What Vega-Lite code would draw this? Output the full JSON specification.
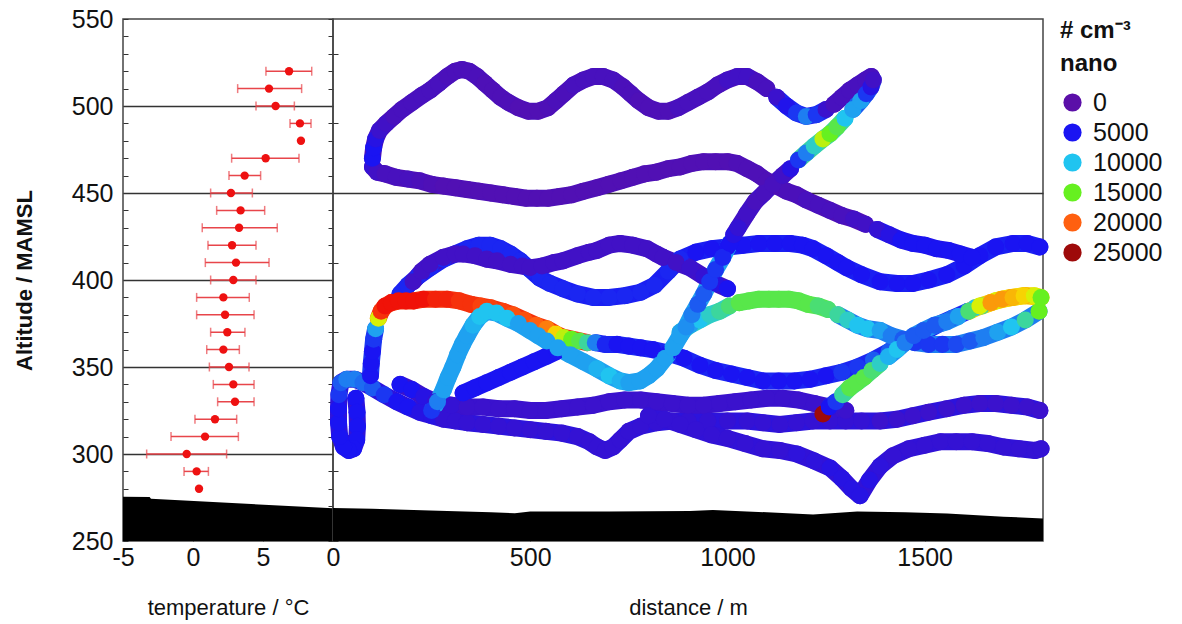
{
  "$schema": "https://vega.github.io/schema/vega-lite/v6.json",
  "background": "white",
  "padding": {"left": 12, "top": 6, "right": 5, "bottom": 5},
  "bounds": "flush",
  "spacing": 0,
  "config": {
    "font": "Liberation Sans",
    "view": {"stroke": "#444", "strokeWidth": 1.5},
    "axis": {"labelFont": "Liberation Sans", "labelFontSize": 25, "labelColor": "#111", "titleFont": "Liberation Sans", "titleColor": "#111", "domain": false, "tickColor": "#333", "tickWidth": 1, "tickSize": -5, "labelOverlap": false, "labelFlush": false, "labelBound": false},
    "legend": {"labelFont": "Liberation Sans", "titleFont": "Liberation Sans", "labelColor": "#111", "titleColor": "#111"}
  },
  "datasets": {
    "temp": [
      {"alt": 520, "t": 6.86, "lo": 5.21, "hi": 8.48},
      {"alt": 510, "t": 5.43, "lo": 3.19, "hi": 7.76},
      {"alt": 500, "t": 5.9, "lo": 4.5, "hi": 7.24},
      {"alt": 490, "t": 7.64, "lo": 6.93, "hi": 8.43},
      {"alt": 480, "t": 7.71},
      {"alt": 470, "t": 5.19, "lo": 2.76, "hi": 7.57},
      {"alt": 460, "t": 3.69, "lo": 2.57, "hi": 4.83},
      {"alt": 450, "t": 2.71, "lo": 1.26, "hi": 4.24},
      {"alt": 440, "t": 3.4, "lo": 1.69, "hi": 5.12},
      {"alt": 430, "t": 3.29, "lo": 0.66, "hi": 6.02},
      {"alt": 420, "t": 2.79, "lo": 1.07, "hi": 4.5},
      {"alt": 410, "t": 3.07, "lo": 0.88, "hi": 5.43},
      {"alt": 400, "t": 2.88, "lo": 1.26, "hi": 4.5},
      {"alt": 390, "t": 2.17, "lo": 0.26, "hi": 4.02},
      {"alt": 380, "t": 2.29, "lo": 0.26, "hi": 4.36},
      {"alt": 370, "t": 2.45, "lo": 1.26, "hi": 3.71},
      {"alt": 360, "t": 2.17, "lo": 0.98, "hi": 3.31},
      {"alt": 350, "t": 2.57, "lo": 1.17, "hi": 4.0},
      {"alt": 340, "t": 2.88, "lo": 1.45, "hi": 4.36},
      {"alt": 330, "t": 3.0, "lo": 1.76, "hi": 4.36},
      {"alt": 320, "t": 1.57, "lo": 0.14, "hi": 3.12},
      {"alt": 310, "t": 0.86, "lo": -1.57, "hi": 3.24},
      {"alt": 300, "t": -0.45, "lo": -3.31, "hi": 2.4},
      {"alt": 290, "t": 0.26, "lo": -0.64, "hi": 1.1},
      {"alt": 280, "t": 0.43}
    ],
    "groundT": [
      {"t": -5, "g": 275.5}, {"t": -3.1, "g": 275.3}, {"t": -3, "g": 274.3}, {"t": 10, "g": 268.8}
    ],
    "groundD": [
      {"d": 0, "g": 269}, {"d": 100, "g": 268.5}, {"d": 246, "g": 267.5}, {"d": 400, "g": 266.5}, {"d": 461, "g": 266}, {"d": 500, "g": 267}, {"d": 700, "g": 267}, {"d": 905, "g": 267.2}, {"d": 963, "g": 267.8}, {"d": 1100, "g": 266.5}, {"d": 1217, "g": 265.3}, {"d": 1329, "g": 267}, {"d": 1450, "g": 266.5}, {"d": 1557, "g": 265.8}, {"d": 1700, "g": 264}, {"d": 1800, "g": 263}
    ],
    "tk": [
      {"k":"I","c":3500},{"k":"K","c":3200},{"k":"J","c":2500},{"k":"M","c":5000},{"k":"G","c":5300},{"k":"H","c":2100},{"k":"B","c":1000},{"k":"B2","c":4500},
      {"k":"A1","c":1300},{"k":"A2","c":5500},{"k":"A3","c":1500},{"k":"D1","c":6000},{"k":"D2","c":21500},{"k":"D3","c":5500},{"k":"D4","c":18000},
      {"k":"E1","c":11000},{"k":"E2","c":13800},{"k":"E3","c":8000},{"k":"F1","c":6000},{"k":"F2","c":13000},{"k":"F3","c":8500},{"k":"F4","c":18000},
      {"k":"C1","c":9000},{"k":"C2","c":2000},{"k":"C3","c":12000},{"k":"C4","c":7000}
    ],
    "track": [
      {"k":"I","d":58,"a":332,"v":5000},{"k":"I","d":61,"a":324,"v":5000},{"k":"I","d":62,"a":316,"v":5000},{"k":"I","d":60,"a":308,"v":5000},{"k":"I","d":52,"a":303,"v":5000},{"k":"I","d":40,"a":302,"v":5000},{"k":"I","d":27,"a":304,"v":5000},{"k":"I","d":17,"a":310,"v":5000},{"k":"I","d":14,"a":318,"v":5000},{"k":"I","d":14,"a":326,"v":5000},{"k":"I","d":15,"a":334,"v":6000},{"k":"I","d":20,"a":341,"v":7000},{"k":"I","d":35,"a":343,"v":8000},{"k":"I","d":55,"a":343,"v":8000},{"k":"I","d":76,"a":341,"v":7500},{"k":"I","d":100,"a":338,"v":7000},{"k":"I","d":130,"a":334,"v":6000},{"k":"I","d":162,"a":330,"v":5000},{"k":"I","d":190,"a":327,"v":5000},{"k":"I","d":220,"a":324,"v":4000},{"k":"I","d":250,"a":322,"v":4000},{"k":"I","d":280,"a":320,"v":3000},{"k":"I","d":310,"a":319,"v":3000},{"k":"I","d":340,"a":318,"v":3000},{"k":"I","d":380,"a":317,"v":3000},{"k":"I","d":420,"a":316,"v":3000},{"k":"I","d":460,"a":315,"v":3000},{"k":"I","d":500,"a":314,"v":3000},{"k":"I","d":540,"a":313,"v":3000},{"k":"I","d":580,"a":312,"v":3000},{"k":"I","d":620,"a":310,"v":3000},{"k":"I","d":650,"a":307,"v":3000},{"k":"I","d":670,"a":304,"v":3000},{"k":"I","d":690,"a":302,"v":3000},{"k":"I","d":710,"a":304,"v":3000},{"k":"I","d":728,"a":308,"v":3000},{"k":"I","d":750,"a":313,"v":3000},{"k":"I","d":780,"a":316,"v":3000},{"k":"I","d":820,"a":318,"v":3000},{"k":"I","d":860,"a":319,"v":3000},{"k":"I","d":900,"a":319,"v":3000},{"k":"I","d":950,"a":319,"v":3000},{"k":"I","d":1000,"a":319,"v":3000},{"k":"I","d":1050,"a":319,"v":3000},{"k":"I","d":1090,"a":318,"v":3000},{"k":"I","d":1133,"a":317,"v":3000},{"k":"I","d":1175,"a":318,"v":3000},{"k":"I","d":1217,"a":319,"v":3000},{"k":"I","d":1260,"a":319,"v":3000},{"k":"I","d":1300,"a":319,"v":3000},{"k":"I","d":1340,"a":319,"v":3000},{"k":"I","d":1387,"a":319,"v":2500},{"k":"I","d":1430,"a":320,"v":2500},{"k":"I","d":1470,"a":322,"v":2500},{"k":"I","d":1510,"a":324,"v":2500},{"k":"I","d":1556,"a":326,"v":2500},{"k":"I","d":1600,"a":328,"v":2500},{"k":"I","d":1640,"a":329,"v":2500},{"k":"I","d":1680,"a":329,"v":2500},{"k":"I","d":1720,"a":328,"v":2500},{"k":"I","d":1760,"a":327,"v":2500},{"k":"I","d":1792,"a":325,"v":2500},
      {"k":"K","d":800,"a":322,"v":3000},{"k":"K","d":840,"a":320,"v":3000},{"k":"K","d":880,"a":317,"v":3000},{"k":"K","d":920,"a":314,"v":3000},{"k":"K","d":960,"a":311,"v":3000},{"k":"K","d":1000,"a":309,"v":3000},{"k":"K","d":1045,"a":306,"v":3000},{"k":"K","d":1090,"a":303,"v":3000},{"k":"K","d":1133,"a":302,"v":3000},{"k":"K","d":1176,"a":300,"v":3500},{"k":"K","d":1220,"a":296,"v":3500},{"k":"K","d":1260,"a":292,"v":4000},{"k":"K","d":1290,"a":286,"v":4000},{"k":"K","d":1315,"a":280,"v":4000},{"k":"K","d":1336,"a":276,"v":4000},{"k":"K","d":1360,"a":285,"v":4000},{"k":"K","d":1387,"a":293,"v":3500},{"k":"K","d":1420,"a":299,"v":3000},{"k":"K","d":1460,"a":303,"v":3000},{"k":"K","d":1500,"a":305,"v":3000},{"k":"K","d":1540,"a":307,"v":3000},{"k":"K","d":1580,"a":307,"v":3000},{"k":"K","d":1620,"a":307,"v":3000},{"k":"K","d":1660,"a":306,"v":3000},{"k":"K","d":1700,"a":304,"v":3000},{"k":"K","d":1740,"a":303,"v":3000},{"k":"K","d":1780,"a":302,"v":3000},{"k":"K","d":1795,"a":303,"v":3000},
      {"k":"J","d":170,"a":340,"v":5000},{"k":"J","d":200,"a":337,"v":5000},{"k":"J","d":230,"a":333,"v":4000},{"k":"J","d":260,"a":330,"v":3000},{"k":"J","d":300,"a":328,"v":3000},{"k":"J","d":340,"a":327,"v":2500},{"k":"J","d":380,"a":327,"v":2500},{"k":"J","d":420,"a":326,"v":2500},{"k":"J","d":460,"a":326,"v":2500},{"k":"J","d":500,"a":325,"v":2500},{"k":"J","d":540,"a":325,"v":2500},{"k":"J","d":580,"a":326,"v":2500},{"k":"J","d":620,"a":327,"v":2500},{"k":"J","d":660,"a":328,"v":2500},{"k":"J","d":700,"a":330,"v":2500},{"k":"J","d":740,"a":331,"v":2500},{"k":"J","d":780,"a":331,"v":2500},{"k":"J","d":820,"a":330,"v":2500},{"k":"J","d":860,"a":329,"v":2500},{"k":"J","d":900,"a":328,"v":2500},{"k":"J","d":940,"a":328,"v":2500},{"k":"J","d":980,"a":329,"v":2500},{"k":"J","d":1020,"a":330,"v":2500},{"k":"J","d":1060,"a":331,"v":2500},{"k":"J","d":1100,"a":332,"v":2500},{"k":"J","d":1140,"a":332,"v":2500},{"k":"J","d":1180,"a":331,"v":2500},{"k":"J","d":1220,"a":329,"v":2500},{"k":"J","d":1260,"a":327,"v":2500},{"k":"J","d":1300,"a":325,"v":2500},
      {"k":"M","d":330,"a":335,"v":5000},{"k":"M","d":360,"a":338,"v":5000},{"k":"M","d":390,"a":341,"v":5000},{"k":"M","d":420,"a":344,"v":5000},{"k":"M","d":450,"a":347,"v":5000},{"k":"M","d":480,"a":350,"v":5000},{"k":"M","d":510,"a":353,"v":5000},{"k":"M","d":540,"a":356,"v":5000},{"k":"M","d":568,"a":359,"v":5000},
      {"k":"G","d":170,"a":392,"v":5500},{"k":"G","d":190,"a":397,"v":5500},{"k":"G","d":215,"a":402,"v":5500},{"k":"G","d":246,"a":407,"v":5500},{"k":"G","d":280,"a":412,"v":5500},{"k":"G","d":310,"a":415,"v":5500},{"k":"G","d":340,"a":418,"v":5500},{"k":"G","d":370,"a":420,"v":5500},{"k":"G","d":398,"a":420,"v":5500},{"k":"G","d":425,"a":418,"v":5500},{"k":"G","d":450,"a":415,"v":5500},{"k":"G","d":475,"a":411,"v":5500},{"k":"G","d":500,"a":406,"v":5500},{"k":"G","d":525,"a":401,"v":5500},{"k":"G","d":550,"a":398,"v":5500},{"k":"G","d":583,"a":395,"v":5500},{"k":"G","d":620,"a":392,"v":5500},{"k":"G","d":660,"a":390,"v":5500},{"k":"G","d":700,"a":390,"v":5500},{"k":"G","d":740,"a":391,"v":5500},{"k":"G","d":780,"a":393,"v":5500},{"k":"G","d":815,"a":397,"v":5500},{"k":"G","d":850,"a":405,"v":5500},{"k":"G","d":880,"a":412,"v":5500},{"k":"G","d":920,"a":416,"v":5000},{"k":"G","d":960,"a":418,"v":5000},{"k":"G","d":1000,"a":419,"v":5000},{"k":"G","d":1040,"a":420,"v":5000},{"k":"G","d":1080,"a":421,"v":5000},{"k":"G","d":1120,"a":421,"v":5000},{"k":"G","d":1159,"a":421,"v":5000},{"k":"G","d":1190,"a":420,"v":5000},{"k":"G","d":1217,"a":418,"v":5000},{"k":"G","d":1250,"a":414,"v":5000},{"k":"G","d":1280,"a":410,"v":5000},{"k":"G","d":1303,"a":407,"v":5000},{"k":"G","d":1340,"a":403,"v":5000},{"k":"G","d":1387,"a":399,"v":5000},{"k":"G","d":1430,"a":398,"v":5000},{"k":"G","d":1470,"a":398,"v":5000},{"k":"G","d":1510,"a":400,"v":5000},{"k":"G","d":1556,"a":403,"v":5000},{"k":"G","d":1600,"a":408,"v":5000},{"k":"G","d":1640,"a":414,"v":5000},{"k":"G","d":1680,"a":419,"v":5000},{"k":"G","d":1724,"a":421,"v":5000},{"k":"G","d":1760,"a":421,"v":5000},{"k":"G","d":1792,"a":419,"v":5000},
      {"k":"H","d":203,"a":399,"v":2000},{"k":"H","d":225,"a":405,"v":2000},{"k":"H","d":246,"a":409,"v":2000},{"k":"H","d":280,"a":413,"v":2000},{"k":"H","d":310,"a":415,"v":2000},{"k":"H","d":330,"a":415,"v":2000},{"k":"H","d":360,"a":414,"v":2000},{"k":"H","d":390,"a":412,"v":2000},{"k":"H","d":416,"a":411,"v":2000},{"k":"H","d":450,"a":409,"v":2000},{"k":"H","d":480,"a":408,"v":2000},{"k":"H","d":499,"a":407,"v":2000},{"k":"H","d":530,"a":408,"v":2000},{"k":"H","d":560,"a":410,"v":2000},{"k":"H","d":583,"a":411,"v":2000},{"k":"H","d":620,"a":414,"v":2000},{"k":"H","d":650,"a":416,"v":2000},{"k":"H","d":669,"a":417,"v":2000},{"k":"H","d":700,"a":420,"v":2000},{"k":"H","d":728,"a":421,"v":2000},{"k":"H","d":760,"a":420,"v":2000},{"k":"H","d":796,"a":418,"v":2000},{"k":"H","d":820,"a":415,"v":2000},{"k":"H","d":837,"a":413,"v":2000},{"k":"H","d":870,"a":410,"v":2000},{"k":"H","d":905,"a":407,"v":2500},{"k":"H","d":940,"a":402,"v":3000},{"k":"H","d":970,"a":398,"v":4000},{"k":"H","d":1000,"a":395,"v":5000},
      {"k":"B","d":100,"a":465,"v":3000},{"k":"B","d":112,"a":462,"v":2000},{"k":"B","d":132,"a":461,"v":1500},{"k":"B","d":160,"a":459,"v":1500},{"k":"B","d":190,"a":458,"v":1500},{"k":"B","d":220,"a":457,"v":1200},{"k":"B","d":250,"a":455,"v":1000},{"k":"B","d":280,"a":454,"v":800},{"k":"B","d":310,"a":453,"v":800},{"k":"B","d":340,"a":452,"v":800},{"k":"B","d":370,"a":451,"v":800},{"k":"B","d":400,"a":450,"v":800},{"k":"B","d":430,"a":449,"v":800},{"k":"B","d":460,"a":448,"v":800},{"k":"B","d":490,"a":447,"v":800},{"k":"B","d":517,"a":447,"v":800},{"k":"B","d":545,"a":447,"v":800},{"k":"B","d":575,"a":448,"v":800},{"k":"B","d":605,"a":449,"v":800},{"k":"B","d":635,"a":451,"v":800},{"k":"B","d":669,"a":453,"v":800},{"k":"B","d":700,"a":455,"v":800},{"k":"B","d":730,"a":457,"v":800},{"k":"B","d":760,"a":459,"v":800},{"k":"B","d":790,"a":461,"v":800},{"k":"B","d":820,"a":462,"v":800},{"k":"B","d":850,"a":464,"v":800},{"k":"B","d":880,"a":465,"v":800},{"k":"B","d":910,"a":467,"v":800},{"k":"B","d":940,"a":468,"v":800},{"k":"B","d":970,"a":468,"v":800},{"k":"B","d":1000,"a":468,"v":800},{"k":"B","d":1024,"a":467,"v":1000},{"k":"B","d":1050,"a":464,"v":1000},{"k":"B","d":1075,"a":461,"v":1000},{"k":"B","d":1100,"a":457,"v":1000},{"k":"B","d":1125,"a":454,"v":1000},{"k":"B","d":1150,"a":451,"v":1200},{"k":"B","d":1175,"a":449,"v":1200},{"k":"B","d":1200,"a":446,"v":1500},{"k":"B","d":1230,"a":443,"v":1500},{"k":"B","d":1260,"a":440,"v":1500},{"k":"B","d":1290,"a":437,"v":1500},{"k":"B","d":1320,"a":435,"v":2000},{"k":"B","d":1350,"a":432,"v":2000},{"k":"B2","d":1380,"a":429,"v":3000},{"k":"B2","d":1410,"a":426,"v":4000},{"k":"B2","d":1440,"a":423,"v":5000},{"k":"B2","d":1470,"a":421,"v":5000},{"k":"B2","d":1500,"a":420,"v":5000},{"k":"B2","d":1530,"a":418,"v":5000},{"k":"B2","d":1560,"a":417,"v":5000},{"k":"B2","d":1590,"a":415,"v":5000},{"k":"B2","d":1620,"a":413,"v":5000},
      {"k":"A1","d":100,"a":470,"v":5000},{"k":"A1","d":103,"a":476,"v":5000},{"k":"A1","d":108,"a":481,"v":4000},{"k":"A1","d":118,"a":486,"v":2500},{"k":"A1","d":135,"a":490,"v":2000},{"k":"A1","d":155,"a":494,"v":1500},{"k":"A1","d":175,"a":498,"v":1500},{"k":"A1","d":200,"a":502,"v":1500},{"k":"A1","d":225,"a":506,"v":1500},{"k":"A1","d":246,"a":509,"v":1500},{"k":"A1","d":268,"a":513,"v":1500},{"k":"A1","d":290,"a":517,"v":1200},{"k":"A1","d":310,"a":520,"v":1200},{"k":"A1","d":327,"a":521,"v":1200},{"k":"A1","d":345,"a":520,"v":1200},{"k":"A1","d":365,"a":517,"v":1200},{"k":"A1","d":385,"a":513,"v":1000},{"k":"A1","d":405,"a":509,"v":1000},{"k":"A1","d":425,"a":505,"v":1000},{"k":"A1","d":445,"a":502,"v":1000},{"k":"A1","d":470,"a":499,"v":800},{"k":"A1","d":495,"a":497,"v":800},{"k":"A1","d":520,"a":497,"v":800},{"k":"A1","d":545,"a":499,"v":1000},{"k":"A1","d":565,"a":503,"v":1200},{"k":"A1","d":585,"a":507,"v":1200},{"k":"A1","d":610,"a":512,"v":1500},{"k":"A1","d":635,"a":515,"v":1500},{"k":"A1","d":660,"a":517,"v":1500},{"k":"A1","d":685,"a":517,"v":1500},{"k":"A1","d":710,"a":515,"v":1500},{"k":"A1","d":735,"a":511,"v":1200},{"k":"A1","d":755,"a":507,"v":1200},{"k":"A1","d":775,"a":503,"v":1000},{"k":"A1","d":800,"a":499,"v":1000},{"k":"A1","d":825,"a":497,"v":1000},{"k":"A1","d":850,"a":497,"v":1000},{"k":"A1","d":875,"a":499,"v":1500},{"k":"A1","d":900,"a":502,"v":1500},{"k":"A1","d":925,"a":505,"v":1500},{"k":"A1","d":950,"a":508,"v":1500},{"k":"A1","d":975,"a":512,"v":1500},{"k":"A1","d":1000,"a":515,"v":2000},{"k":"A1","d":1025,"a":517,"v":2000},{"k":"A1","d":1050,"a":517,"v":2000},{"k":"A1","d":1075,"a":514,"v":1500},{"k":"A1","d":1100,"a":510,"v":1500},{"k":"A2","d":1125,"a":505,"v":2500},{"k":"A2","d":1150,"a":500,"v":4500},{"k":"A2","d":1175,"a":496,"v":6000},{"k":"A2","d":1200,"a":494,"v":8000},{"k":"A2","d":1225,"a":495,"v":6000},{"k":"A2","d":1250,"a":498,"v":2500},{"k":"A3","d":1270,"a":501,"v":1500},{"k":"A3","d":1290,"a":505,"v":1500},{"k":"A3","d":1310,"a":509,"v":1500},{"k":"A3","d":1330,"a":512,"v":1500},{"k":"A3","d":1350,"a":515,"v":1500},{"k":"A3","d":1365,"a":517,"v":1500},
      {"k":"D1","d":95,"a":345,"v":5000},{"k":"D1","d":97,"a":352,"v":5000},{"k":"D1","d":100,"a":359,"v":5000},{"k":"D1","d":103,"a":366,"v":6000},{"k":"D1","d":108,"a":372,"v":9000},{"k":"D2","d":115,"a":378,"v":17000},{"k":"D2","d":122,"a":382,"v":21500},{"k":"D2","d":132,"a":385,"v":22500},{"k":"D2","d":148,"a":387,"v":22500},{"k":"D2","d":166,"a":388,"v":22500},{"k":"D2","d":185,"a":388,"v":22500},{"k":"D2","d":205,"a":388,"v":22500},{"k":"D2","d":230,"a":389,"v":22500},{"k":"D2","d":260,"a":389,"v":22000},{"k":"D2","d":289,"a":389,"v":22000},{"k":"D2","d":320,"a":388,"v":21500},{"k":"D2","d":350,"a":386,"v":21500},{"k":"D2","d":375,"a":385,"v":21000},{"k":"D2","d":400,"a":384,"v":21000},{"k":"D2","d":430,"a":382,"v":21000},{"k":"D2","d":456,"a":380,"v":20500},{"k":"D2","d":485,"a":377,"v":20500},{"k":"D2","d":515,"a":374,"v":20000},{"k":"D2","d":542,"a":372,"v":19500},{"k":"D2","d":565,"a":369,"v":18000},{"k":"D2","d":585,"a":367,"v":16500},{"k":"D2","d":605,"a":366,"v":15000},{"k":"D2","d":625,"a":365,"v":14000},{"k":"D2","d":645,"a":364,"v":12000},{"k":"D3","d":665,"a":364,"v":8000},{"k":"D3","d":690,"a":363,"v":5500},{"k":"D3","d":720,"a":363,"v":5000},{"k":"D3","d":750,"a":362,"v":5000},{"k":"D3","d":780,"a":361,"v":5000},{"k":"D3","d":810,"a":360,"v":5000},{"k":"D3","d":850,"a":358,"v":5000},{"k":"D3","d":890,"a":355,"v":5000},{"k":"D3","d":930,"a":351,"v":5000},{"k":"D3","d":970,"a":348,"v":5000},{"k":"D3","d":1010,"a":346,"v":5000},{"k":"D3","d":1050,"a":344,"v":5000},{"k":"D3","d":1090,"a":342,"v":5000},{"k":"D3","d":1130,"a":342,"v":5000},{"k":"D3","d":1170,"a":342,"v":5000},{"k":"D3","d":1210,"a":343,"v":5000},{"k":"D3","d":1250,"a":345,"v":5000},{"k":"D3","d":1290,"a":347,"v":6000},{"k":"D3","d":1330,"a":350,"v":6000},{"k":"D3","d":1370,"a":354,"v":7000},{"k":"D3","d":1410,"a":359,"v":7000},{"k":"D3","d":1450,"a":364,"v":7000},{"k":"D3","d":1490,"a":369,"v":7000},{"k":"D3","d":1530,"a":374,"v":7000},{"k":"D3","d":1570,"a":378,"v":7500},{"k":"D3","d":1610,"a":382,"v":8000},{"k":"D4","d":1628,"a":384,"v":10000},{"k":"D4","d":1645,"a":385,"v":12000},{"k":"D4","d":1680,"a":388,"v":17000},{"k":"D4","d":1720,"a":390,"v":19000},{"k":"D4","d":1755,"a":391,"v":19000},{"k":"D4","d":1790,"a":390,"v":18000},
      {"k":"E1","d":880,"a":370,"v":9000},{"k":"E1","d":905,"a":374,"v":9000},{"k":"E1","d":930,"a":377,"v":10000},{"k":"E1","d":955,"a":380,"v":11000},{"k":"E1","d":980,"a":382,"v":12000},{"k":"E1","d":1005,"a":385,"v":13000},{"k":"E2","d":1030,"a":387,"v":14000},{"k":"E2","d":1055,"a":388,"v":14000},{"k":"E2","d":1080,"a":389,"v":14000},{"k":"E2","d":1105,"a":389,"v":14000},{"k":"E2","d":1130,"a":389,"v":14000},{"k":"E2","d":1155,"a":389,"v":14000},{"k":"E2","d":1180,"a":388,"v":14000},{"k":"E2","d":1205,"a":386,"v":14000},{"k":"E2","d":1230,"a":385,"v":13000},{"k":"E2","d":1255,"a":383,"v":13000},{"k":"E3","d":1280,"a":380,"v":12000},{"k":"E3","d":1305,"a":377,"v":11000},{"k":"E3","d":1330,"a":374,"v":10000},{"k":"E3","d":1355,"a":372,"v":10000},{"k":"E3","d":1387,"a":371,"v":9000},{"k":"E3","d":1415,"a":368,"v":8000},{"k":"E3","d":1445,"a":366,"v":7000},{"k":"E3","d":1475,"a":364,"v":6000},{"k":"E3","d":1510,"a":363,"v":6000},{"k":"E3","d":1545,"a":363,"v":6000},{"k":"E3","d":1580,"a":363,"v":6500},{"k":"E3","d":1615,"a":365,"v":7000},{"k":"E3","d":1650,"a":367,"v":8000},{"k":"E3","d":1685,"a":370,"v":9000},{"k":"E3","d":1720,"a":373,"v":10000},{"k":"E3","d":1755,"a":377,"v":12000},{"k":"E3","d":1790,"a":382,"v":15000},
      {"k":"F1","d":1242,"a":323,"v":25000},{"k":"F1","d":1258,"a":327,"v":5000},{"k":"F1","d":1275,"a":330,"v":6000},{"k":"F2","d":1292,"a":334,"v":12000},{"k":"F2","d":1310,"a":338,"v":14000},{"k":"F2","d":1328,"a":341,"v":14000},{"k":"F2","d":1346,"a":344,"v":14000},{"k":"F2","d":1366,"a":348,"v":13000},{"k":"F2","d":1387,"a":352,"v":11000},{"k":"F3","d":1408,"a":356,"v":9500},{"k":"F3","d":1430,"a":360,"v":10000},{"k":"F3","d":1450,"a":364,"v":8000},{"k":"F3","d":1472,"a":368,"v":7000},{"k":"F3","d":1497,"a":371,"v":7000},{"k":"F3","d":1525,"a":374,"v":7000},{"k":"F3","d":1556,"a":376,"v":8000},{"k":"F3","d":1585,"a":379,"v":9000},{"k":"F4","d":1612,"a":382,"v":13000},{"k":"F4","d":1640,"a":385,"v":17000},{"k":"F4","d":1668,"a":387,"v":19000},{"k":"F4","d":1696,"a":389,"v":19000},{"k":"F4","d":1724,"a":390,"v":18500},{"k":"F4","d":1752,"a":391,"v":18000},{"k":"F4","d":1778,"a":391,"v":17000},{"k":"F4","d":1795,"a":390,"v":15000},
      {"k":"C1","d":250,"a":325,"v":6000},{"k":"C1","d":265,"a":330,"v":8000},{"k":"C1","d":280,"a":337,"v":9000},{"k":"C1","d":292,"a":344,"v":9000},{"k":"C1","d":304,"a":350,"v":9000},{"k":"C1","d":316,"a":357,"v":9000},{"k":"C1","d":328,"a":363,"v":9000},{"k":"C1","d":340,"a":368,"v":9000},{"k":"C1","d":355,"a":374,"v":9500},{"k":"C1","d":372,"a":379,"v":10000},{"k":"C1","d":390,"a":382,"v":10000},{"k":"C1","d":415,"a":381,"v":10000},{"k":"C1","d":441,"a":378,"v":10000},{"k":"C1","d":470,"a":375,"v":9000},{"k":"C1","d":499,"a":371,"v":9000},{"k":"C1","d":520,"a":368,"v":9000},{"k":"C1","d":542,"a":365,"v":9000},{"k":"C1","d":570,"a":361,"v":9000},{"k":"C1","d":601,"a":357,"v":9000},{"k":"C1","d":635,"a":353,"v":9000},{"k":"C1","d":669,"a":349,"v":9500},{"k":"C1","d":700,"a":345,"v":10000},{"k":"C1","d":728,"a":342,"v":9500},{"k":"C1","d":750,"a":341,"v":9000},{"k":"C1","d":778,"a":342,"v":9000},{"k":"C1","d":800,"a":345,"v":9000},{"k":"C1","d":821,"a":349,"v":9000},{"k":"C1","d":842,"a":355,"v":9000},{"k":"C1","d":862,"a":361,"v":9000},{"k":"C1","d":880,"a":368,"v":9000},{"k":"C1","d":895,"a":373,"v":8500},{"k":"C1","d":910,"a":380,"v":8000},{"k":"C1","d":925,"a":386,"v":7000},{"k":"C1","d":940,"a":392,"v":7000},{"k":"C1","d":955,"a":399,"v":6000},{"k":"C1","d":970,"a":406,"v":6000},{"k":"C1","d":988,"a":413,"v":5500},{"k":"C1","d":1006,"a":421,"v":5000},{"k":"C2","d":1016,"a":426,"v":4000},{"k":"C2","d":1027,"a":430,"v":3000},{"k":"C2","d":1049,"a":438,"v":2000},{"k":"C2","d":1070,"a":445,"v":1500},{"k":"C2","d":1093,"a":450,"v":1500},{"k":"C2","d":1115,"a":455,"v":1500},{"k":"C2","d":1140,"a":460,"v":2000},{"k":"C2","d":1160,"a":464,"v":4000},{"k":"C3","d":1180,"a":469,"v":6000},{"k":"C3","d":1200,"a":473,"v":8000},{"k":"C3","d":1220,"a":477,"v":11000},{"k":"C3","d":1242,"a":481,"v":16500},{"k":"C3","d":1260,"a":484,"v":15000},{"k":"C3","d":1278,"a":488,"v":14000},{"k":"C3","d":1298,"a":493,"v":10000},{"k":"C4","d":1318,"a":498,"v":9000},{"k":"C4","d":1338,"a":503,"v":9000},{"k":"C4","d":1352,"a":507,"v":6000},{"k":"C4","d":1364,"a":511,"v":4000},{"k":"C4","d":1370,"a":515,"v":2000}
    ]
  },
  "hconcat": [
    {
      "width": 210,
      "height": 522,
      "resolve": {"axis": {"y": "independent"}},
      "layer": [
        {
          "data": {"name": "groundT"},
          "mark": {"type": "area", "color": "black", "clip": true},
          "encoding": {
            "x": {"field": "t", "type": "quantitative", "title": "temperature / °C", "scale": {"domain": [-5, 10], "nice": false, "zero": false},
              "axis": {"values": [-5, 0, 5], "labelExpr": "datum.value === -5 ? '-5' : '' + datum.value", "labelOverlap": false, "labelPadding": 9, "titlePadding": 27, "titleFontSize": 22, "titleFontWeight": "normal", "grid": false}},
            "y": {"field": "g", "type": "quantitative", "title": "Altitude / MAMSL", "scale": {"domain": [250, 550], "nice": false, "zero": false},
              "axis": {"orient": "left", "values": [250,260,270,280,290,300,310,320,330,340,350,360,370,380,390,400,410,420,430,440,450,460,470,480,490,500,510,520,530,540,550], "labelExpr": "datum.value % 50 === 0 ? '' + datum.value : ''", "labelOverlap": false, "labelPadding": 15, "titlePadding": 35, "titleFontSize": 22, "titleFontWeight": "bold", "grid": true, "gridColor": "#333", "gridWidth": 1.5, "gridOpacity": {"condition": {"test": "datum.value % 50 === 0 && datum.value > 250 && datum.value < 550", "value": 1}, "value": 0}}},
            "y2": {"datum": 250}
          }
        },
        {
          "data": {"name": "temp"},
          "transform": [{"filter": "isValid(datum.lo)"}],
          "mark": {"type": "errorbar", "ticks": {"size": 9}, "color": "#e8454a", "thickness": 1.5},
          "encoding": {
            "x": {"field": "lo", "type": "quantitative", "title": "temperature / °C"},
            "x2": {"field": "hi"},
            "y": {"field": "alt", "type": "quantitative", "title": "Altitude / MAMSL",
              "axis": {"orient": "right", "values": [250,260,270,280,290,300,310,320,330,340,350,360,370,380,390,400,410,420,430,440,450,460,470,480,490,500,510,520,530,540,550], "labels": false, "title": null, "grid": false}}
          }
        },
        {
          "data": {"name": "temp"},
          "mark": {"type": "circle", "size": 70, "color": "#ee1111", "opacity": 1},
          "encoding": {
            "x": {"field": "t", "type": "quantitative", "title": "temperature / °C"},
            "y": {"field": "alt", "type": "quantitative", "axis": null}
          }
        }
      ]
    },
    {
      "width": 710,
      "height": 522,
      "layer": [
        {
          "data": {"name": "groundD"},
          "mark": {"type": "area", "color": "black"},
          "encoding": {
            "x": {"field": "d", "type": "quantitative", "title": "distance / m", "scale": {"domain": [0, 1800], "nice": false, "zero": false},
              "axis": {"values": [0, 500, 1000, 1500], "labelExpr": "'' + datum.value", "labelOverlap": false, "labelPadding": 9, "titlePadding": 27, "titleFontSize": 22, "titleFontWeight": "normal", "grid": false}},
            "y": {"field": "g", "type": "quantitative", "title": null, "scale": {"domain": [250, 550], "nice": false, "zero": false},
              "axis": {"orient": "left", "values": [250,260,270,280,290,300,310,320,330,340,350,360,370,380,390,400,410,420,430,440,450,460,470,480,490,500,510,520,530,540,550], "labels": false, "title": null, "grid": true, "gridColor": "#333", "gridWidth": 1.5, "gridOpacity": {"condition": {"test": "datum.value % 50 === 0 && datum.value > 250 && datum.value < 550", "value": 1}, "value": 0}}},
            "y2": {"datum": 250}
          }
        },
        {
          "data": {"name": "track"},
          "transform": [{"lookup": "k", "from": {"data": {"name": "tk"}, "key": "k", "fields": ["c"]}}],
          "mark": {"type": "line", "strokeWidth": 17, "strokeCap": "round", "strokeJoin": "round", "opacity": 1},
          "encoding": {
            "x": {"field": "d", "type": "quantitative", "title": "distance / m"},
            "y": {"field": "a", "type": "quantitative", "title": null},
            "detail": {"field": "k"},
            "order": {"value": null},
            "stroke": {"field": "c", "type": "quantitative",
              "scale": {"domain": [-1, 5000, 10000, 15000, 17500, 20000, 22500, 25001], "range": ["#5b0fa8", "#1a14f2", "#20c4f0", "#66f020", "#f5f000", "#ff6010", "#f01208", "#9e0a0a"], "interpolate": "rgb"},
              "legend": null}
          }
        },
        {
          "data": {"name": "track"},
          "mark": {"type": "circle", "size": 290, "opacity": 1},
          "encoding": {
            "x": {"field": "d", "type": "quantitative", "title": "distance / m"},
            "y": {"field": "a", "type": "quantitative", "title": null},
            "color": {"field": "v", "type": "quantitative",
              "scale": {"domain": [0, 5000, 10000, 15000, 17500, 20000, 22500, 25000], "range": ["#5b0fa8", "#1a14f2", "#20c4f0", "#66f020", "#f5f000", "#ff6010", "#f01208", "#9e0a0a"], "interpolate": "rgb"},
              "legend": {"type": "symbol", "values": [0, 5000, 10000, 15000, 20000, 25000], "format": "d", "title": ["# cm⁻³", "nano"], "titleFontSize": 24, "titleFontWeight": "bold", "titleLineHeight": 33, "titlePadding": 14, "labelFontSize": 25, "labelOffset": 8, "symbolSize": 330, "symbolType": "circle", "symbolStrokeWidth": 0, "rowPadding": 4, "offset": 9, "orient": "right"}}
          }
        }
      ]
    }
  ]
}
